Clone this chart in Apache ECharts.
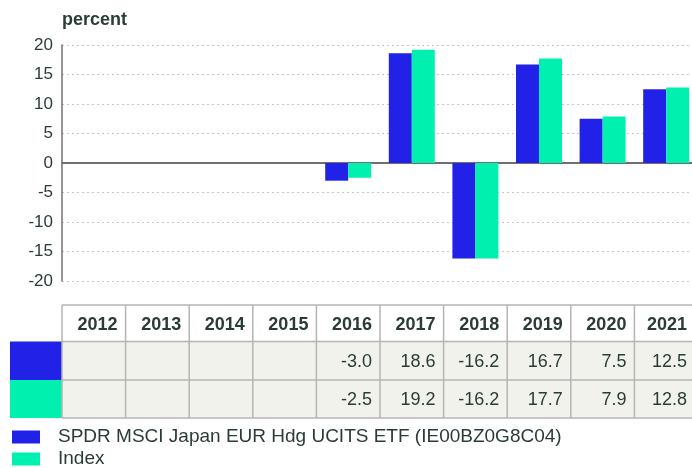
<!DOCTYPE html>
<html>
<head>
<meta charset="utf-8">
<script src="https://cdn.jsdelivr.net/npm/echarts@6/dist/echarts.min.js"></script>
<style>
  html, body { margin: 0; padding: 0; background: #fff; }
  #chart { width: 692px; height: 468px; }
</style>
</head>
<body>
<div id="chart"></div>
<script>
// chart data
const years = ['2012', '2013', '2014', '2015', '2016', '2017', '2018', '2019', '2020', '2021'];
const fundValues = [null, null, null, null, -3.0, 18.6, -16.2, 16.7, 7.5, 12.5];
const indexValues = [null, null, null, null, -2.5, 19.2, -16.2, 17.7, 7.9, 12.8];
const seriesNames = ['SPDR MSCI Japan EUR Hdg UCITS ETF (IE00BZ0G8C04)', 'Index'];
const yTicks = [-20, -15, -10, -5, 0, 5, 10, 15, 20];

const BLUE = '#2121e8';
const GREEN = '#00f0b0';
const TEXT = '#2b3c37';
const FONT = '"Liberation Sans", Arial, sans-serif';

const chart = echarts.init(document.getElementById('chart'), null, { renderer: 'canvas' });

const legendBase = {
  orient: 'vertical',
  left: 12,
  padding: 0,
  itemWidth: 28,
  itemHeight: 13,
  icon: 'rect',
  selectedMode: false,
  textStyle: { fontSize: 19, lineHeight: 20, color: TEXT, padding: [0, 0, 0, 13] },
};

chart.setOption({
  animation: false,
  backgroundColor: '#fff',
  textStyle: { fontFamily: FONT, color: TEXT },
  grid: { left: 62, width: 636, top: 45, bottom: 187, containLabel: false, outerBoundsMode: 'none' },
  legend: [
    Object.assign({}, legendBase, { top: 427, data: [seriesNames[0]] }),
    Object.assign({}, legendBase, { top: 449, data: [seriesNames[1]] }),
  ],
  xAxis: {
    type: 'category',
    data: years,
    axisLine: { onZero: true, lineStyle: { color: '#707070', width: 2 } },
    axisTick: { show: false },
    axisLabel: { show: false },
    splitLine: { show: false },
  },
  yAxis: {
    type: 'value',
    min: yTicks[0],
    max: yTicks[yTicks.length - 1],
    interval: 5,
    name: 'percent',
    nameLocation: 'end',
    nameGap: 16,
    nameTextStyle: { fontSize: 18, fontWeight: 'bold', color: TEXT, align: 'left', padding: [0, 0, 0, 0] },
    axisLine: { show: true, onZero: false, lineStyle: { color: '#707070', width: 1.5 } },
    axisTick: { show: false },
    axisLabel: { fontSize: 17, color: TEXT, margin: 9 },
    splitLine: { lineStyle: { color: '#c8c8c8', type: [2, 3], width: 1 } },
  },
  series: [
    {
      name: seriesNames[0],
      type: 'bar',
      data: fundValues,
      barWidth: 23,
      barGap: '0%',
      itemStyle: { color: BLUE },
    },
    {
      name: seriesNames[1],
      type: 'bar',
      data: indexValues,
      barWidth: 23,
      barGap: '0%',
      itemStyle: { color: GREEN },
    },
  ],
});

// data table under the plot, columns aligned to the category axis
function buildTable() {
  const c0 = chart.convertToPixel({ xAxisIndex: 0 }, 0);
  const c1 = chart.convertToPixel({ xAxisIndex: 0 }, 1);
  const step = c1 - c0;
  const rowsY = [305, 341.5, 380, 418];
  const left = c0 - step / 2;
  const right = 692;
  const els = [];
  const rows = [fundValues, indexValues];
  const colors = [BLUE, GREEN];

  // body background
  els.push({ type: 'rect', shape: { x: left, y: rowsY[1], width: right - left, height: rowsY[3] - rowsY[1] }, style: { fill: '#f2f2ed' }, z: 1 });
  // swatches
  rows.forEach((_, r) => {
    els.push({ type: 'rect', shape: { x: 10, y: rowsY[r + 1], width: left - 10, height: rowsY[r + 2] - rowsY[r + 1] }, style: { fill: colors[r] }, z: 1 });
  });
  // horizontal lines
  rowsY.forEach((y) => {
    els.push({ type: 'line', shape: { x1: left, y1: y, x2: right, y2: y }, style: { stroke: '#b4b4b4', lineWidth: 1.5 }, z: 2 });
  });
  // vertical lines + texts
  years.forEach((yr, i) => {
    const cx = chart.convertToPixel({ xAxisIndex: 0 }, i);
    const x0 = cx - step / 2;
    const x1 = Math.min(cx + step / 2, right + 3);
    els.push({ type: 'line', shape: { x1: x0, y1: rowsY[0], x2: x0, y2: rowsY[3] }, style: { stroke: '#b4b4b4', lineWidth: 1.5 }, z: 2 });
    els.push({
      type: 'text', z: 3,
      style: { x: x1 - 8, y: (rowsY[0] + rowsY[1]) / 2 + 2, text: yr, fill: TEXT, font: 'bold 18px ' + FONT, align: 'right', verticalAlign: 'middle' },
    });
    rows.forEach((vals, r) => {
      if (vals[i] == null) return;
      els.push({
        type: 'text', z: 3,
        style: { x: x1 - 8, y: (rowsY[r + 1] + rowsY[r + 2]) / 2 + 1, text: vals[i].toFixed(1), fill: TEXT, font: '18px ' + FONT, align: 'right', verticalAlign: 'middle' },
      });
    });
  });
  chart.setOption({ graphic: els });
}

buildTable();
</script>
</body>
</html>
